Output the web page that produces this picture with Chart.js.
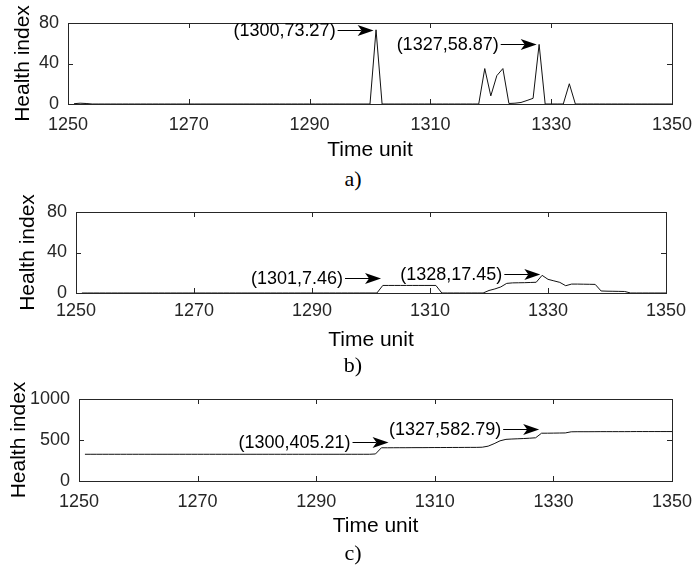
<!DOCTYPE html>
<html>
<head>
<meta charset="utf-8">
<script src="https://cdn.jsdelivr.net/npm/chart.js@4.4.0/dist/chart.umd.min.js"></script>
<style>
  body { margin: 0; background: #fff; width: 692px; height: 566px; position: relative; overflow: hidden; }
  canvas { position: absolute; left: 0; }
  .sub { position: absolute; font-family: 'Liberation Serif', 'Times New Roman', serif; font-size: 22px; color: #000; transform: translate(-50%, -50%); }
</style>
</head>
<body>
<canvas id="chartA" width="692" height="163" style="top:0px"></canvas>
<div class="sub" style="left:353px;top:179px">a)</div>
<canvas id="chartB" width="692" height="183" style="top:170px"></canvas>
<div class="sub" style="left:353px;top:365px">b)</div>
<canvas id="chartC" width="692" height="159" style="top:380px"></canvas>
<div class="sub" style="left:353px;top:553px">c)</div>

<script>
// time axis (same for the three panels)
const timeUnits = [
  1251,1252,1253,1254,1255,1256,1257,1258,1259,1260,
  1261,1262,1263,1264,1265,1266,1267,1268,1269,1270,
  1271,1272,1273,1274,1275,1276,1277,1278,1279,1280,
  1281,1282,1283,1284,1285,1286,1287,1288,1289,1290,
  1291,1292,1293,1294,1295,1296,1297,1298,1299,1300,
  1301,1302,1303,1304,1305,1306,1307,1308,1309,1310,
  1311,1312,1313,1314,1315,1316,1317,1318,1319,1320,
  1321,1322,1323,1324,1325,1326,1327,1328,1329,1330,
  1331,1332,1333,1334,1335,1336,1337,1338,1339,1340,
  1341,1342,1343,1344,1345,1346,1347,1348,1349,1350
];

// a) health index
const healthA = [
  0.3,0.8,0.5,0,0,0,0,0,0,0,
  0,0,0,0,0,0,0,0,0,0,
  0,0,0,0,0,0,0,0,0,0,
  0,0,0,0,0,0,0,0,0,0,
  0,0,0,0,0,0,0,0,0,0,
  73.27,0,0,0,0,0,0,0,0,0,
  0,0,0,0,0,0,0,0,35,8,
  28,35,0.5,0.8,1.5,3.5,5.6,58.87,0,0,
  0,0,20,0,0,0,0,0,0,0,
  0,0,0,0,0,0,0,0,0,0
];

// b) health index
const healthB = [
  0,0,0,0,0,0,0,0,0,0,
  0,0,0,0,0,0,0,0,0,0,
  0,0,0,0,0,0,0,0,0,0,
  0,0,0,0,0,0,0,0,0,0,
  0,0,0,0,0,0,0,0,0,0,
  0,7.46,7.46,7.46,7.46,7.46,7.46,7.46,7.46,7.46,
  7.46,0,0,0,0,0,0,0,0,2.5,
  4,6,9.5,10,10.1,10.2,10.4,10.6,17.45,13.5,
  12,10.5,7.2,8.8,8.8,8.7,8.6,8.5,2,1.8,
  1.7,1.6,1.5,0,0,0,0,0,0,0
];

// c) health index (cumulative)
const healthC = [
  326,326,326,326,326,326,326,326,326,326,
  326,326,326,326,326,326,326,326,326,326,
  326,326,326,326,326,326,326,326,326,326,
  326,326,326,326,326,326,326,326,326,326,
  326,326,326,326,326,326,326,326,326,330,
  405.21,405,405.5,406,406,406.5,407,407,407.5,408,
  408,408.5,409,409,409.5,410,410,412,425,455,
  490,508,512,515,518,522,527,582.79,583,584,
  585,586,600,601,601,601,601.5,602,602,602,
  602,602,602.5,603,603,603,603,603,603,603
];

// tick values
const xTicks = [1250, 1270, 1290, 1310, 1330, 1350];
const yTicksAB = [0, 40, 80];
const yTicksC = [0, 500, 1000];

// annotation labels (arrow tip in data units)
const notesA = [
  { text: '(1300,73.27)', x: 1300.6, y: 73.3 },
  { text: '(1327,58.87)', x: 1327.6, y: 58.9 }
];
const notesB = [
  { text: '(1301,7.46)', x: 1301.7, y: 14.5 },
  { text: '(1328,17.45)', x: 1328.7, y: 18.8 }
];
const notesC = [
  { text: '(1300,405.21)', x: 1302.2, y: 472 },
  { text: '(1327,582.79)', x: 1327.6, y: 634 }
];

Chart.defaults.font.family = "'Liberation Sans', Arial, sans-serif";
Chart.defaults.color = '#262626';

// box, inward ticks and text arrows like the matlab figure
const boxPlugin = {
  id: 'boxPlugin',
  afterDatasetsDraw(chart, args, opts) {
    const { ctx, chartArea: a, scales: { x, y } } = chart;
    ctx.save();
    ctx.strokeStyle = '#262626';
    ctx.lineWidth = 1;
    ctx.strokeRect(a.left + 0.5, a.top + 0.5, a.right - a.left, a.bottom - a.top);
    ctx.beginPath();
    xTicks.forEach(v => {
      const px = Math.round(x.getPixelForValue(v)) + 0.5;
      ctx.moveTo(px, a.bottom); ctx.lineTo(px, a.bottom - 5);
      ctx.moveTo(px, a.top); ctx.lineTo(px, a.top + 5);
    });
    opts.yTicks.forEach(v => {
      const py = Math.round(y.getPixelForValue(v)) + 0.5;
      ctx.moveTo(a.left, py); ctx.lineTo(a.left + 5, py);
      ctx.moveTo(a.right, py); ctx.lineTo(a.right - 5, py);
    });
    ctx.stroke();

    ctx.fillStyle = '#000';
    ctx.strokeStyle = '#000';
    ctx.font = "18px 'Liberation Sans', Arial, sans-serif";
    ctx.textAlign = 'right';
    ctx.textBaseline = 'middle';
    opts.notes.forEach(n => {
      const tx = x.getPixelForValue(n.x);
      const ty = Math.round(y.getPixelForValue(n.y)) + 0.5;
      const len = 36;
      ctx.beginPath();
      ctx.moveTo(tx - len, ty); ctx.lineTo(tx - 12, ty);
      ctx.stroke();
      ctx.beginPath();
      ctx.moveTo(tx, ty);
      ctx.lineTo(tx - 16, ty - 5.5);
      ctx.lineTo(tx - 12, ty);
      ctx.lineTo(tx - 16, ty + 5.5);
      ctx.closePath();
      ctx.fill();
      ctx.fillText(n.text, tx - len - 2, ty + 1);
    });
    ctx.restore();
  }
};

function makeChart(id, values, yMax, yStep, yTicks, notes, area, yTitlePad, xTickPad) {
  const canvas = document.getElementById(id);
  const H = canvas.height;
  return new Chart(canvas.getContext('2d'), {
    type: 'line',
    data: {
      datasets: [{
        data: timeUnits.map((t, i) => ({ x: t, y: values[i] })),
        borderColor: '#111',
        borderWidth: 1,
        pointRadius: 0,
        tension: 0,
        fill: false
      }]
    },
    options: {
      responsive: false,
      animation: false,
      devicePixelRatio: 1,
      layout: { padding: { top: area.top, right: 692 - area.right, left: 0, bottom: 0 } },
      plugins: {
        legend: { display: false },
        tooltip: { enabled: false },
        boxPlugin: { notes: notes, yTicks: yTicks }
      },
      scales: {
        x: {
          type: 'linear',
          min: 1250, max: 1350,
          grid: { display: false, drawTicks: false },
          border: { display: false },
          ticks: { stepSize: 20, padding: xTickPad, font: { size: 18 }, maxRotation: 0, autoSkip: false,
                   callback: v => String(v) },
          title: { display: true, text: 'Time unit', font: { size: 21 }, color: '#000', padding: { top: 0, bottom: 0 } },
          afterFit: s => { s.height = H - area.bottom; s.paddingLeft = 0; s.paddingRight = 0; }
        },
        y: {
          min: 0, max: yMax,
          grid: { display: false, drawTicks: false },
          border: { display: false },
          ticks: { stepSize: yStep, padding: 9, font: { size: 18 }, callback: v => String(v) },
          title: { display: true, text: 'Health index', font: { size: 21 }, color: '#000', padding: { top: yTitlePad, bottom: 0 } },
          afterFit: s => { s.width = area.left; s.paddingTop = 0; s.paddingBottom = 0; }
        }
      }
    },
    plugins: [boxPlugin]
  });
}

document.addEventListener('DOMContentLoaded', function () {
  // plot areas in each canvas' own pixels
  makeChart('chartA', healthA, 80, 40, yTicksAB, notesA, { left: 68, top: 23, right: 672, bottom: 104 }, 11, 10);
  makeChart('chartB', healthB, 80, 40, yTicksAB, notesB, { left: 76, top: 42, right: 666, bottom: 123 }, 16, 7);
  makeChart('chartC', healthC, 1000, 500, yTicksC, notesC, { left: 79, top: 19, right: 672, bottom: 101 }, 7, 10);
});
</script>
</body>
</html>
